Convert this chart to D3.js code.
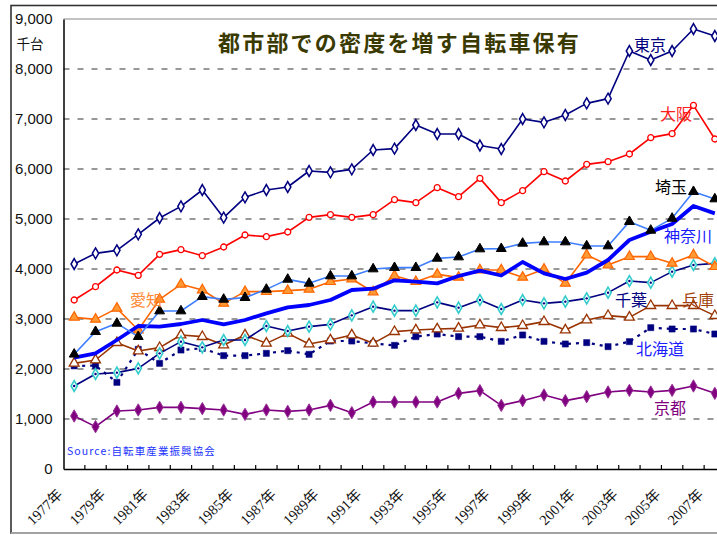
<!DOCTYPE html>
<html><head><meta charset="utf-8">
<script src="https://cdn.jsdelivr.net/npm/d3@7"></script>
<style>
body{margin:0;background:#fff;overflow:hidden}
svg{display:block}
</style></head>
<body><svg id="c" width="717" height="535"></svg>
<script>
const years = d3.range(1977, 2008);
const tickLabels = years.filter(y => (y - 1977) % 2 === 0).map(y => y + "年");
const yTicks = [0,1000,2000,3000,4000,5000,6000,7000,8000,9000];
const title = "都市部での密度を増す自転車保有";
const unitLabel = "千台";
const sourceText = "Source:自転車産業振興協会";

const tokyo    = [4100,4313,4373,4693,5020,5253,5580,5027,5433,5580,5640,5960,5933,5993,6380,6407,6880,6700,6700,6470,6400,7000,6933,7080,7313,7407,8360,8180,8360,8800,8660];
const osaka    = [3380,3647,3980,3873,4293,4387,4267,4440,4680,4647,4740,5033,5087,5033,5087,5387,5327,5627,5447,5813,5327,5567,5947,5760,6093,6147,6300,6627,6707,7273,6600];
const saitama  = [2295,2747,2913,2647,3160,3160,3447,3393,3427,3593,3793,3713,3860,3860,4000,4027,4027,4213,4240,4400,4407,4513,4540,4540,4460,4460,4947,4773,5013,5547,5400];
const kanagawa = [2227,2313,2580,2860,2847,2900,2980,2893,2980,3113,3233,3280,3380,3580,3607,3773,3747,3713,3860,3967,3870,4140,3913,3800,3927,4180,4580,4747,4900,5260,5113];
const aichi    = [3033,2993,3213,2780,3393,3693,3580,3313,3547,3547,3567,3593,3747,3800,3540,3867,3747,3893,3833,3980,3980,3833,3993,3713,4280,4080,4247,4247,4113,4280,4047];
const chiba    = [1660,1900,1927,2013,2313,2547,2433,2580,2580,2860,2760,2847,2893,3073,3247,3167,3167,3333,3227,3380,3200,3380,3313,3347,3413,3527,3760,3727,3947,4080,4113];
const hyogo    = [2113,2180,2527,2360,2427,2680,2647,2480,2680,2513,2713,2500,2580,2680,2513,2747,2780,2800,2813,2880,2827,2867,2947,2780,2980,3067,3033,3267,3267,3267,3067];
const hokkaido = [2063,2067,1733,2393,2113,2380,2413,2267,2267,2313,2367,2293,2560,2560,2513,2473,2647,2700,2647,2647,2553,2680,2553,2500,2527,2447,2547,2827,2800,2800,2700];
const kyoto    = [1060,847,1160,1180,1233,1233,1207,1180,1093,1180,1153,1180,1273,1127,1340,1340,1340,1340,1513,1567,1273,1367,1480,1367,1447,1540,1573,1540,1573,1660,1513];

const seriesNames = ["京都","北海道","兵庫","千葉","愛知","神奈川","埼玉","大阪","東京"];
const seriesData  = [kyoto,hokkaido,hyogo,chiba,aichi,kanagawa,saitama,osaka,tokyo];

const styles = {
  "東京":  {line:"#000080", w:1.6, sym:d3.symbolDiamond, size:34, fill:"#fff", stroke:"#000080", sw:1.5, lab:[650,44], lc:"#000080"},
  "大阪":  {line:"#ff0000", w:1.6, sym:d3.symbolCircle, size:28, fill:"#fff", stroke:"#ff0000", sw:1.3, lab:[676,113], lc:"#ff2020"},
  "埼玉":  {line:"#3f7fff", w:1.6, sym:d3.symbolTriangle, size:42, fill:"#000", stroke:"#000", sw:1, lab:[671,186], lc:"#000"},
  "神奈川":{line:"#0000ff", w:3.8, sym:null, lab:[688,235], lc:"#1a1aff"},
  "愛知":  {line:"#ff6600", w:1.6, sym:d3.symbolTriangle, size:42, fill:"#ff9933", stroke:"#ff6600", sw:1.2, lab:[146,299], lc:"#ff8c3a"},
  "千葉":  {line:"#000080", w:1.6, sym:d3.symbolDiamond, size:34, fill:"#fff", stroke:"#33cccc", sw:1.6, dot:true, lab:[631,299], lc:"#000080"},
  "兵庫":  {line:"#993300", w:1.6, sym:d3.symbolTriangle, size:42, fill:"#fff", stroke:"#993300", sw:1.3, lab:[698,299], lc:"#a0400c"},
  "北海道":{line:"#000080", w:2.2, dash:"3,5", sym:d3.symbolSquare, size:38, fill:"#000080", stroke:"#000080", sw:0.5, lab:[660,348], lc:"#1a1aff"},
  "京都":  {line:"#800080", w:1.6, sym:d3.symbolDiamond, size:44, fill:"#800080", stroke:"#993399", sw:1, lab:[670,407], lc:"#800080"}
};

const svg = d3.select("#c");
const plotL = 63.5, plotR = 725.5, plotT = 19, plotB = 469;
const x = d3.scaleBand().domain(years).range([plotL, plotR]).paddingInner(0).paddingOuter(0);
const y = d3.scaleLinear().domain([0, 9000]).range([plotB, plotT]);
const cx = v => x(v) + x.bandwidth()/2;

// outer frame
svg.append("rect").attr("x",11).attr("y",5.5).attr("width",760).attr("height",527.5)
  .attr("fill","#fff").attr("stroke","#333").attr("stroke-width",1.6);
svg.append("line").attr("x1",11).attr("x2",760).attr("y1",533).attr("y2",533).attr("stroke","#bbb").attr("stroke-width",1.5);

// plot area top border (gray)
svg.append("line").attr("x1",plotL).attr("x2",plotR).attr("y1",plotT).attr("y2",plotT).attr("stroke","#888").attr("stroke-width",1.2);

// gridlines
svg.append("g").selectAll("line").data(yTicks.filter(t => t > 0 && t < 9000)).join("line")
  .attr("x1",plotL).attr("x2",plotR).attr("y1",d=>y(d)).attr("y2",d=>y(d))
  .attr("stroke","#333").attr("stroke-width",1).attr("stroke-dasharray","6,8");

// y axis
const yAxis = d3.axisLeft(y).tickValues(yTicks).tickSize(0).tickPadding(11).tickFormat(d3.format(","));
const gy = svg.append("g").attr("transform",`translate(${plotL},0)`).call(yAxis);
gy.select(".domain").attr("stroke","#000").attr("stroke-width",1.5);
gy.selectAll("text").attr("font-family","Liberation Sans, Arial, sans-serif").attr("font-size",15).attr("fill","#111");

svg.append("text").attr("x",30).attr("y",49).attr("text-anchor","middle")
  .attr("font-family","Noto Sans CJK JP").attr("font-size",13.5).attr("fill","#111").text(unitLabel);

// x axis
const xAxis = d3.axisBottom(x).tickSize(0).tickFormat("");
const gx = svg.append("g").attr("transform",`translate(0,${plotB})`).call(xAxis);
gx.select(".domain").attr("stroke","#000").attr("stroke-width",1.5);
// tick marks at band boundaries (inside)
svg.append("g").selectAll("line").data(years.slice(1)).join("line")
  .attr("x1",d=>x(d)).attr("x2",d=>x(d)).attr("y1",plotB).attr("y2",plotB-4)
  .attr("stroke","#000").attr("stroke-width",1.2);
svg.append("g").selectAll("text").data(tickLabels).join("text")
  .attr("transform",d => `translate(${cx(+d.slice(0,4)) - 13},${plotB + 24}) rotate(-45)`)
  .attr("text-anchor","end").attr("dominant-baseline","middle")
  .attr("font-family","Liberation Serif, 'Noto Sans CJK JP', serif").attr("font-size",14.5).attr("fill","#111")
  .text(d=>d);

// series
const lineGen = d3.line().x((d,i)=>cx(years[i])).y(d=>y(d));
seriesNames.forEach((name, k) => {
  const st = styles[name];
  const vals = seriesData[k];
  svg.append("path").datum(vals).attr("d", lineGen).attr("fill","none")
    .attr("stroke", st.line).attr("stroke-width", st.w)
    .attr("stroke-linejoin","round")
    .attr("stroke-dasharray", st.dash || null);
  if (st.sym) {
    const sym = d3.symbol().type(st.sym).size(st.size);
    const g = svg.append("g");
    g.selectAll("path").data(vals).join("path")
      .attr("transform",(d,i)=>`translate(${cx(years[i])},${y(d)})`)
      .attr("d", sym).attr("fill", st.fill).attr("stroke", st.stroke).attr("stroke-width", st.sw);
    if (st.dot) {
      g.selectAll("circle").data(vals).join("circle")
        .attr("cx",(d,i)=>cx(years[i])).attr("cy",d=>y(d)).attr("r",1.2).attr("fill","#000080");
    }
  }
});

// series labels
seriesNames.forEach(name => {
  const st = styles[name];
  svg.append("text").attr("x",st.lab[0]).attr("y",st.lab[1]).attr("text-anchor","middle")
    .attr("dominant-baseline","central")
    .attr("font-family","Noto Sans CJK JP").attr("font-size",16).attr("fill",st.lc).text(name);
});

// title
svg.append("text").attr("x",399.5).attr("y",41).attr("text-anchor","middle").attr("dominant-baseline","central")
  .attr("font-family","Noto Sans CJK JP").attr("font-weight","bold").attr("font-size",22)
  .attr("letter-spacing","2.2px").attr("fill","#3a3a00").text(title);

// source
svg.append("text").attr("x",67).attr("y",450).attr("dominant-baseline","central")
  .attr("font-family","Noto Sans CJK JP").attr("font-size",10.5).attr("letter-spacing","1.1px")
  .attr("fill","#2233ff").text(sourceText);
</script>
</body></html>
